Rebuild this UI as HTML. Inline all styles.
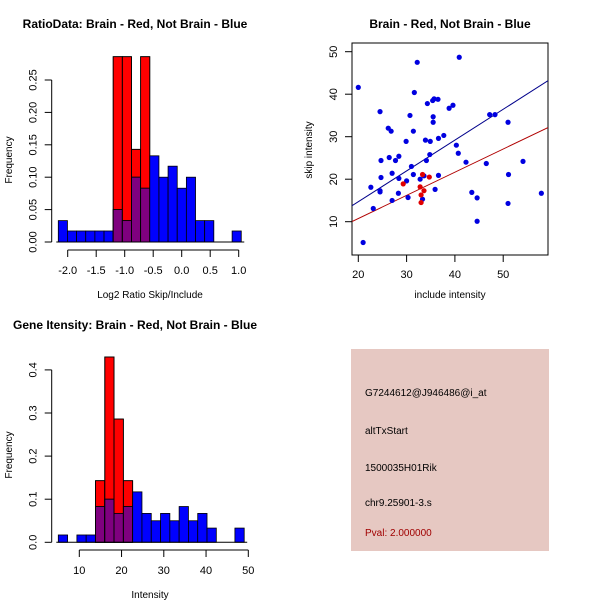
<!DOCTYPE html>
<html><head><meta charset="utf-8"><style>
body{margin:0;background:#fff}
svg{display:block;font-family:"Liberation Sans",Arial,sans-serif}
</style></head><body>
<svg id="s" width="600" height="600" viewBox="0 0 600 600">
<rect width="600" height="600" fill="#fff"/>
<text x="135" y="28" font-size="12" font-weight="bold" text-anchor="middle">RatioData: Brain - Red, Not Brain - Blue</text>
<text x="450" y="28" font-size="12" font-weight="bold" text-anchor="middle">Brain - Red, Not Brain - Blue</text>
<text x="135" y="329" font-size="12" font-weight="bold" text-anchor="middle">Gene Itensity: Brain - Red, Not Brain - Blue</text>
<text x="150" y="298" font-size="10" text-anchor="middle">Log2 Ratio Skip/Include</text>
<text x="12" y="160" font-size="10" text-anchor="middle" transform="rotate(-90 12 160)">Frequency</text>
<text x="450" y="298" font-size="10" text-anchor="middle">include intensity</text>
<text x="312" y="150" font-size="10" text-anchor="middle" transform="rotate(-90 312 150)">skip intensity</text>
<text x="150" y="598" font-size="10" text-anchor="middle">Intensity</text>
<text x="12" y="455" font-size="10" text-anchor="middle" transform="rotate(-90 12 455)">Frequency</text>
<g>
<rect x="351" y="349" width="198" height="202" fill="#e6c8c2"/>
<text x="365" y="396" font-size="10">G7244612@J946486@i_at</text>
<text x="365" y="434" font-size="10">altTxStart</text>
<text x="365" y="471" font-size="10">1500035H01Rik</text>
<text x="365" y="506" font-size="10">chr9.25901-3.s</text>
<text x="365" y="536" font-size="10" fill="#a00000">Pval: 2.000000</text>
</g>
</svg>
<script>
// Ratio histogram data
const ratioStart=-2.165, ratioWidth=0.1605;
const ratioBlue=[0.033,0.017,0.017,0.017,0.017,0.017,0.05,0.033,0.1,0.083,0.133,0.1,0.117,0.083,0.1,0.033,0.033,0,0,0.017];
const ratioRed=[0,0,0,0,0,0,0.286,0.286,0.143,0.286,0,0,0,0,0,0,0,0,0,0];
const ratioXTicks=[-2.0,-1.5,-1.0,-0.5,0.0,0.5,1.0];
const ratioXLabels=["-2.0","-1.5","-1.0","-0.5","0.0","0.5","1.0"];
const ratioYTicks=[0,0.05,0.1,0.15,0.2,0.25];
const ratioYLabels=["0.00","0.05","0.10","0.15","0.20","0.25"];
// Intensity histogram data
const intStart=5.03, intWidth=2.2;
const intBlue=[0.017,0,0.017,0.017,0.083,0.1,0.067,0.083,0.117,0.067,0.05,0.067,0.05,0.083,0.05,0.067,0.033,0,0,0.033];
const intRed=[0,0,0,0,0.143,0.43,0.286,0.143,0,0,0,0,0,0,0,0,0,0,0,0];
const intXTicks=[10,20,30,40,50];
const intYTicks=[0,0.1,0.2,0.3,0.4];
const intYLabels=["0.0","0.1","0.2","0.3","0.4"];
// Scatter data
const blueX=[20,21,22.6,23.1,24.5,24.7,24.7,24.5,24.5,26.2,26.8,26.4,27.0,27.0,27.7,28.4,28.4,28.3,29.9,30.0,30.3,30.7,31.0,31.4,31.4,31.6,32.2,32.8,33.3,33.6,33.9,34.1,34.3,34.8,34.9,35.4,35.7,35.5,35.5,35.9,36.5,36.6,36.6,37.7,38.8,39.6,40.3,40.7,40.9,42.3,43.5,44.6,44.6,46.5,47.2,48.3,51.0,51.1,51.0,54.1,57.9];
const blueY=[41.6,5.1,18.1,13.1,35.9,24.4,20.4,17.3,17.0,32,31.3,25.1,21.4,15.0,24.4,25.4,20.2,16.7,28.9,19.6,15.7,35.0,23.0,31.3,21.1,40.4,47.5,20.0,15.3,20.8,29.2,24.4,37.8,25.8,28.9,38.5,38.9,34.7,33.4,17.6,38.8,29.6,20.9,30.3,36.7,37.4,28.0,26.1,48.7,24.0,16.9,15.6,10.1,23.7,35.2,35.2,33.4,21.1,14.3,24.2,16.7];
const redX=[29.3,32.8,33.0,33.0,33.3,33.6,34.7];
const redY=[18.9,18.2,16.3,14.5,21.1,17.3,20.5];
const blueFit=[0.2,0.725];
const redFit=[-0.15,0.545];
const scXTicks=[20,30,40,50];
const scYTicks=[10,20,30,40,50];

const NS="http://www.w3.org/2000/svg", svg=document.getElementById('s');
function mk(t,a,p){const e=document.createElementNS(NS,t);for(const k in a)e.setAttribute(k,a[k]);(p||svg).appendChild(e);return e;}

function hist(o){
  const g=mk('g',{});
  
  
  const X=v=>o.x0+(v-o.v0)*o.sx, Y=v=>o.y0-v*o.sy;
  for(let i=0;i<o.blue.length;i++){
    const a=o.start+i*o.w, b=a+o.w;
    const r=o.red[i], bl=o.blue[i], m=Math.min(r,bl);
    if(r>0){const e=mk('rect',{x:X(a),y:Y(r),width:X(b)-X(a),height:Y(0)-Y(r),fill:'#ff0000',stroke:'#000','stroke-width':0.8},g);
      }
    if(bl>0){const e=mk('rect',{x:X(a),y:Y(bl),width:X(b)-X(a),height:Y(0)-Y(bl),fill:'#0000ff',stroke:'#000','stroke-width':0.8},g);
      }
    if(m>0){const e=mk('rect',{x:X(a),y:Y(m),width:X(b)-X(a),height:Y(0)-Y(m),fill:'#7f007f',stroke:'#000','stroke-width':0.8},g);
      }
    if(r>bl&&bl>0){mk('rect',{x:X(a),y:Y(r),width:X(b)-X(a),height:Y(0)-Y(r),fill:'none',stroke:'#000','stroke-width':0.8},g);}
  }
  mk('line',{x1:X(o.start)-2,x2:X(o.start+o.blue.length*o.w)+3,y1:Y(0),y2:Y(0),stroke:'#000'},g);
  const ax=mk('g',{},g);
  
  
  const ay=o.axY;
  mk('line',{x1:X(o.xt[0]),x2:X(o.xt[o.xt.length-1]),y1:ay,y2:ay,stroke:'#000'},ax);
  o.xt.forEach((v,i)=>{mk('line',{x1:X(v),x2:X(v),y1:ay,y2:ay+7,stroke:'#000'},ax);
    const t=mk('text',{x:X(v),y:ay+24,'font-size':11,'text-anchor':'middle'},ax);t.textContent=o.xl[i];});
  const yx=o.axX;
  const ya=mk('g',{},g);
  
  
  mk('line',{x1:yx,x2:yx,y1:Y(o.yt[0]),y2:Y(o.yt[o.yt.length-1]),stroke:'#000'},ya);
  o.yt.forEach((v,i)=>{mk('line',{x1:yx-7,x2:yx,y1:Y(v),y2:Y(v),stroke:'#000'},ya);
    const t=mk('text',{x:yx-15,y:Y(v),'font-size':11,'text-anchor':'middle',transform:`rotate(-90 ${yx-15} ${Y(v)})`},ya);t.textContent=o.yl[i];});
}
hist({name:'ratio-histogram',start:ratioStart,w:ratioWidth,blue:ratioBlue,red:ratioRed,x0:67.7,v0:-2,sx:57,y0:242,sy:648,
  xt:ratioXTicks,xl:ratioXLabels,yt:ratioYTicks,yl:ratioYLabels,axY:250,axX:51.7});
hist({name:'intensity-histogram',start:intStart,w:intWidth,blue:intBlue,red:intRed,x0:79.3,v0:10,sx:4.225,y0:542.3,sy:431,
  xt:intXTicks,xl:intXTicks.map(String),yt:intYTicks,yl:intYLabels,axY:550,axX:51.7});

(function(){
  const g=mk('g',{});
  
  
  const X=v=>358.3+(v-20)*4.83, Y=v=>221.7-(v-10)*4.25;
  const L=352,R=548,T=43,B=255;
  mk('rect',{x:L,y:T,width:R-L,height:B-T,fill:'none',stroke:'#000'},g);
  const cp=mk('clipPath',{id:'cp'},g);mk('rect',{x:L,y:T,width:R-L,height:B-T},cp);
  const xv=v=>(v-358.3)/4.83+20;
  [[blueFit,'#00008b','blue-fit-line'],[redFit,'#b00000','red-fit-line']].forEach(([f,c,n])=>{
    const a=xv(L),b=xv(R);
    const e=mk('line',{x1:L,x2:R,y1:Y(f[0]+f[1]*a),y2:Y(f[0]+f[1]*b),stroke:c,'clip-path':'url(#cp)'},g);
    
  });
  blueX.forEach((x,i)=>{const e=mk('circle',{cx:X(x),cy:Y(blueY[i]),r:2.6,fill:'#0000e0'},g);
    });
  redX.forEach((x,i)=>{const e=mk('circle',{cx:X(x),cy:Y(redY[i]),r:2.6,fill:'#e00000'},g);
    });
  scXTicks.forEach(v=>{mk('line',{x1:X(v),x2:X(v),y1:B,y2:B+7,stroke:'#000'},g);
    const t=mk('text',{x:X(v),y:B+23,'font-size':11,'text-anchor':'middle'},g);t.textContent=v;});
  scYTicks.forEach(v=>{mk('line',{x1:L-7,x2:L,y1:Y(v),y2:Y(v),stroke:'#000'},g);
    const t=mk('text',{x:L-15,y:Y(v),'font-size':11,'text-anchor':'middle',transform:`rotate(-90 ${L-15} ${Y(v)})`},g);t.textContent=v;});
})();
</script>
</body></html>
